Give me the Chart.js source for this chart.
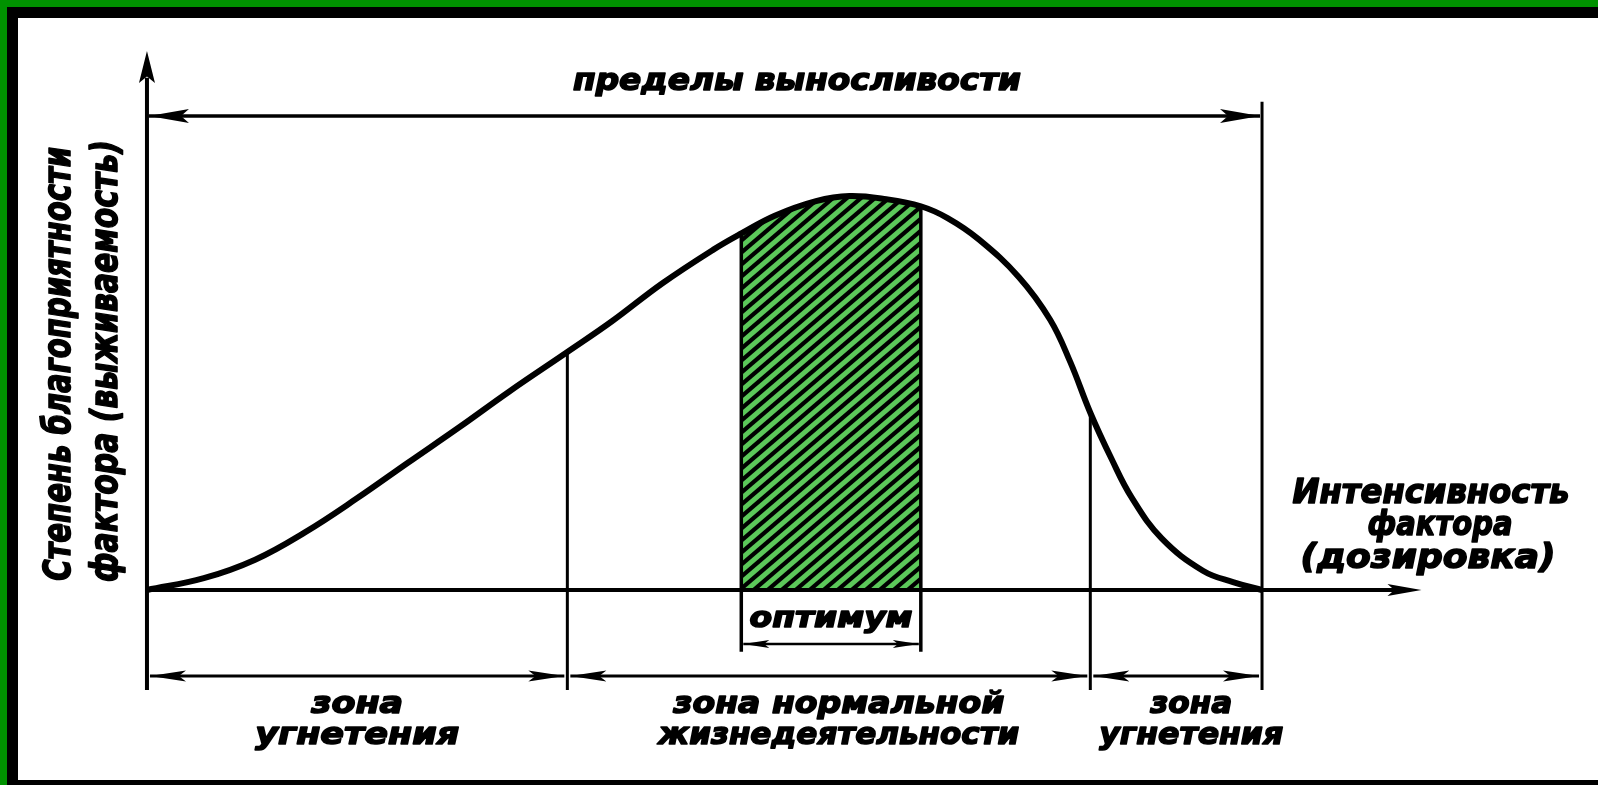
<!DOCTYPE html>
<html>
<head>
<meta charset="utf-8">
<script src="https://cdn.jsdelivr.net/npm/chart.js@4/dist/chart.umd.min.js"></script>
<style>
    html, body { margin: 0; padding: 0; width: 1598px; height: 785px; overflow: hidden; background: #fff; }
    #green { position: absolute; left: 0; top: 0; width: 1640px; height: 785px; background: #009200; }
    #black { position: absolute; left: 7px; top: 7px; width: 1640px; height: 778px; background: #000; }
    #paper { position: absolute; left: 18px; top: 18px; width: 1640px; height: 762px; background: #fff; }
    #canvasId { position: absolute; left: 0; top: 0; }
</style>
</head>
<body>
<div id="green"></div>
<div id="black"></div>
<div id="paper"></div>
<canvas id="canvasId" width="1598" height="785"></canvas>
<script>
// curve: x = intensity (0..100 between the tolerance limits), y = favourability (peak = 100)
const curveX = [0, 5.1, 9.7, 14.2, 18.8, 23.4, 28.0, 32.5, 37.7, 41.7, 46.2, 50.8, 53.3, 56.3, 60.0, 63.0, 66.3, 69.4, 71.8, 74.6, 78.2, 81.0, 82.8, 84.6, 86.5, 88.3, 91.0, 94.7, 97.4, 100];
const curveY = [0, 3.0, 7.7, 14.7, 23.2, 32.3, 41.3, 50.4, 60.4, 68.2, 77.8, 86.4, 90.5, 95.0, 98.7, 100, 99.2, 97.4, 94.4, 89.0, 79.4, 68.6, 57.9, 45.0, 33.3, 23.5, 13.1, 4.9, 2.0, 0];

// hatched optimum band
const optimumX = [53.3, 56.3, 60.0, 63.0, 66.3, 69.4];
const optimumY = [90.5, 95.0, 98.7, 100, 99.2, 97.4];

// zone borders on the intensity axis and where each border meets the curve
const zoneEdges = [0, 37.7, 84.6, 100];
const zoneEdgeTops = [0, 60.4, 45.0, 123.9];

const zoneLabels = [['зона', 'угнетения'], ['зона нормальной', 'жизнедеятельности'], ['зона', 'угнетения']];
const yAxisTitle = ['Степень благоприятности', 'фактора (выживаемость)'];
const xAxisTitle = ['Интенсивность', 'фактора', '(дозировка)'];
const rangeTitle = 'пределы выносливости';
const optimumTitle = 'оптимум';

const FONT = '"DejaVu Sans"';

const makeHatch = () => {
    const w = 14, h = 12;
    const c = document.createElement('canvas');
    c.width = w; c.height = h;
    const g = c.getContext('2d');
    g.fillStyle = '#5cc85a';
    g.fillRect(0, 0, w, h);
    g.strokeStyle = '#000';
    g.lineWidth = 4.2;
    for (let k = -1; k <= 1; k++) {
        g.beginPath();
        g.moveTo(-w, 2 * h + k * h);
        g.lineTo(2 * w, -h + k * h);
        g.stroke();
    }
    return g.createPattern(c, 'repeat');
};

const line = (ctx, x1, y1, x2, y2, lw) => {
    ctx.lineWidth = lw;
    ctx.beginPath();
    ctx.moveTo(x1, y1);
    ctx.lineTo(x2, y2);
    ctx.stroke();
};

// filled arrow head, tip at (x, y), pointing along (dx, dy)
const head = (ctx, x, y, dx, dy, len, half) => {
    const px = -dy, py = dx;
    ctx.beginPath();
    ctx.moveTo(x, y);
    ctx.lineTo(x - dx * len + px * half, y - dy * len + py * half);
    ctx.lineTo(x - dx * len * 0.8, y - dy * len * 0.8);
    ctx.lineTo(x - dx * len - px * half, y - dy * len - py * half);
    ctx.closePath();
    ctx.fill();
};

const dimension = (ctx, x1, x2, yy, lw, len, half) => {
    line(ctx, x1, yy, x2, yy, lw);
    head(ctx, x1, yy, -1, 0, len, half);
    head(ctx, x2, yy, 1, 0, len, half);
};

const text = (ctx, s, cx, cy, size, width, rot) => {
    ctx.save();
    ctx.translate(cx, cy);
    if (rot) ctx.rotate(rot);
    ctx.font = 'italic bold ' + size + 'px ' + FONT;
    ctx.textAlign = 'center';
    ctx.textBaseline = 'middle';
    const w = ctx.measureText(s).width;
    ctx.scale(width / w, 1);
    ctx.fillStyle = '#000';
    ctx.strokeStyle = '#000';
    ctx.lineWidth = 1.6;
    ctx.lineJoin = 'round';
    ctx.fillText(s, 0, 0);
    ctx.strokeText(s, 0, 0);
    ctx.restore();
};

const sketch = {
    id: 'sketch',
    beforeDatasetsDraw(chart) {
        const { ctx, scales: { x, y } } = chart;
        const yDim = y.getPixelForValue(-25.4);
        ctx.save();
        ctx.strokeStyle = '#000';
        // zone borders, from the curve down past the dimension line
        zoneEdges.forEach((v, i) => {
            if (i === 0) return;
            const px = x.getPixelForValue(v);
            line(ctx, px, y.getPixelForValue(zoneEdgeTops[i]), px, yDim, 3);
        });
        ctx.restore();
    },
    afterDatasetsDraw(chart) {
        const { ctx, scales: { x, y } } = chart;
        const X = v => x.getPixelForValue(v);
        const Y = v => y.getPixelForValue(v);
        const y0 = Y(0);
        ctx.save();
        ctx.strokeStyle = '#000';
        ctx.fillStyle = '#000';

        // optimum band edges
        const oL = X(optimumX[0]), oR = X(optimumX[optimumX.length - 1]);
        line(ctx, oL, Y(optimumY[0]), oL, Y(-15.7), 3.5);
        line(ctx, oR, Y(optimumY[optimumY.length - 1]), oR, Y(-15.7), 3.5);
        dimension(ctx, oL + 2, oR - 2, Y(-13.7), 2.5, 26, 4);

        // axes
        line(ctx, X(0), Y(-25.4), X(0), Y(130), 4);
        head(ctx, X(0), Y(136.8), 0, -1, 32, 8);
        const tip = X(114.3);
        line(ctx, X(0), y0, tip - 20, y0, 4);
        head(ctx, tip, y0, 1, 0, 34, 6);

        // tolerance limits
        dimension(ctx, X(0) + 2, X(100) - 2, Y(120.3), 3.5, 40, 7);

        // zone dimension lines
        const yDim = Y(-21.8);
        for (let i = 0; i < zoneEdges.length - 1; i++) {
            dimension(ctx, X(zoneEdges[i]) + 3, X(zoneEdges[i + 1]) - 3, yDim, 3, 36, 5.5);
        }

        // labels
        text(ctx, rangeTitle, X(58.3), Y(128.9), 31, 448);
        text(ctx, yAxisTitle[0], 60, Y(57.4), 38, 434, -Math.PI / 2);
        text(ctx, yAxisTitle[1], 107, Y(58.1), 38, 442, -Math.PI / 2);
        text(ctx, xAxisTitle[0], 1431, Y(24.4), 34, 277);
        text(ctx, xAxisTitle[1], 1440, Y(16.2), 34, 145);
        text(ctx, xAxisTitle[2], 1428, Y(7.9), 34, 255);
        text(ctx, optimumTitle, (oL + oR) / 2, Y(-7.6), 29, 163);

        const widths = [[92, 204], [331, 361], [82, 184]];
        const shift = [0, 10, 15];
        zoneLabels.forEach((lines, i) => {
            const cx = (X(zoneEdges[i]) + X(zoneEdges[i + 1])) / 2 + shift[i];
            text(ctx, lines[0], cx, Y(-29.2), 31, widths[i][0]);
            text(ctx, lines[1], cx, Y(-37.1), 31, widths[i][1]);
        });
        ctx.restore();
    }
};

const toPoints = (xs, ys) => xs.map((v, i) => ({ x: v, y: ys[i] }));

const ctx = document.querySelector('#canvasId');

const config = {
    type: 'line',
    data: {
        datasets: [{
            label: 'curve',
            data: toPoints(curveX, curveY),
            borderColor: '#000',
            borderWidth: 6,
            tension: 0.4,
            pointRadius: 0,
            fill: false,
        }, {
            label: 'optimum',
            data: toPoints(optimumX, optimumY),
            borderWidth: 0,
            borderColor: 'rgba(0,0,0,0)',
            tension: 0.4,
            pointRadius: 0,
            backgroundColor: makeHatch(),
            fill: 'origin',
        }],
    },
    options: {
        responsive: false,
        animation: false,
        parsing: false,
        layout: { padding: 0, autoPadding: false },
        scales: {
            x: { type: 'linear', display: false, min: -13.18, max: 130.13 },
            y: { type: 'linear', display: false, min: -49.49, max: 149.75 },
        },
        plugins: {
            legend: { display: false },
            tooltip: { enabled: false },
        },
    },
    plugins: [sketch],
};

new Chart(ctx, config);
</script>
</body>
</html>
